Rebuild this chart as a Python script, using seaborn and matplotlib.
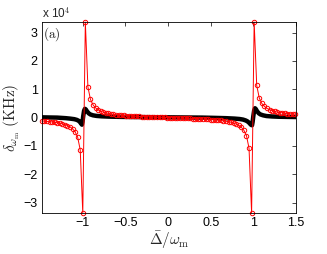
import pandas as pd
import matplotlib
matplotlib.use("Agg")
import matplotlib.pyplot as plt
import seaborn as sns

# values in units of 1e4 KHz (axis shows "x 10^4")
red_x = [-1.48, -1.45, -1.42, -1.39, -1.36, -1.33, -1.30, -1.27, -1.24, -1.21,
         -1.18, -1.15, -1.12, -1.09, -1.06, -1.03, -1.00, -0.97, -0.94, -0.91,
         -0.88, -0.85, -0.82, -0.79, -0.76, -0.73, -0.70, -0.67, -0.64, -0.61,
         -0.58, -0.55, -0.52, -0.49, -0.46, -0.43, -0.40, -0.37, -0.34, -0.31,
         -0.28, -0.25, -0.22, -0.19, -0.16, -0.13, -0.10, -0.07, -0.04, -0.01,
         0.02, 0.05, 0.08, 0.11, 0.14, 0.17, 0.20, 0.23, 0.26, 0.29,
         0.32, 0.35, 0.38, 0.41, 0.44, 0.47, 0.50, 0.53, 0.56, 0.59,
         0.62, 0.65, 0.68, 0.71, 0.74, 0.77, 0.80, 0.83, 0.86, 0.89,
         0.92, 0.95, 0.98, 1.01, 1.04, 1.07, 1.10, 1.13, 1.16, 1.19,
         1.22, 1.25, 1.28, 1.31, 1.34, 1.37, 1.40, 1.43, 1.46, 1.49]
red_y = [-0.121, -0.128, -0.136, -0.144, -0.155, -0.166, -0.180, -0.197, -0.218, -0.245,
         -0.279, -0.326, -0.394, -0.500, -0.691, -1.136, -3.37, 3.37, 1.085, 0.640,
         0.450, 0.343, 0.275, 0.228, 0.194, 0.167, 0.146, 0.129, 0.114, 0.102,
         0.092, 0.083, 0.075, 0.067, 0.061, 0.055, 0.050, 0.045, 0.040, 0.036,
         0.032, 0.028, 0.024, 0.021, 0.017, 0.014, 0.011, 0.008, 0.005, 0.002,
         -0.002, -0.005, -0.008, -0.011, -0.014, -0.017, -0.021, -0.024, -0.028, -0.032,
         -0.036, -0.040, -0.045, -0.050, -0.055, -0.061, -0.067, -0.075, -0.083, -0.092,
         -0.102, -0.114, -0.129, -0.146, -0.167, -0.194, -0.228, -0.275, -0.343, -0.450,
         -0.640, -1.085, -3.37, 3.37, 1.136, 0.691, 0.500, 0.394, 0.326, 0.279,
         0.245, 0.218, 0.197, 0.180, 0.166, 0.155, 0.144, 0.136, 0.128, 0.121]

black_x = [-1.48, -1.40, -1.30, -1.20, -1.15, -1.10, -1.07, -1.05, -1.035, -1.02,
           -1.01, -1.003, -0.995, -0.985, -0.975, -0.965, -0.95, -0.93, -0.91, -0.88,
           -0.84, -0.78, -0.70, -0.55, -0.40, -0.20, 0.00, 0.20, 0.40, 0.55,
           0.68, 0.78, 0.84, 0.88, 0.91, 0.93, 0.95, 0.965, 0.975, 0.985,
           0.992, 1.000, 1.010, 1.020, 1.030, 1.045, 1.065, 1.085, 1.115, 1.155,
           1.22, 1.30, 1.40, 1.50]
black_y = [0.01, 0.005, 0.0, -0.02, -0.035, -0.055, -0.08, -0.11, -0.15, -0.21,
           -0.25, -0.15, 0.05, 0.24, 0.31, 0.29, 0.22, 0.15, 0.11, 0.08,
           0.06, 0.045, 0.035, 0.025, 0.02, 0.015, 0.01, 0.005, 0.0, -0.01,
           -0.02, -0.035, -0.05, -0.07, -0.10, -0.13, -0.18, -0.23, -0.26, -0.27,
           -0.15, 0.05, 0.25, 0.33, 0.30, 0.22, 0.15, 0.11, 0.08, 0.055,
           0.04, 0.03, 0.025, 0.02]

x_ticks = [-1, -0.5, 0, 0.5, 1, 1.5]
x_ticklabels = ["\u22121", "\u22120.5", "0", "0.5", "1", "1.5"]
y_ticks = [-3, -2, -1, 0, 1, 2, 3]
y_ticklabels = ["\u22123", "\u22122", "\u22121", "0", "1", "2", "3"]

red_df = pd.DataFrame({"x": red_x, "y": red_y})
black_df = pd.DataFrame({"x": black_x, "y": black_y})

sns.set_style("white")
plt.rcParams["font.family"] = ["Liberation Sans", "DejaVu Sans"]
plt.rcParams["mathtext.fontset"] = "cm"

fig = plt.figure(figsize=(3.27, 2.54), dpi=100)
ax = fig.add_axes([0.128, 0.161, 0.777, 0.752])

sns.lineplot(data=black_df, x="x", y="y", sort=False, estimator=None,
             color="black", linewidth=3.2, ax=ax)
sns.lineplot(data=red_df, x="x", y="y", sort=False, estimator=None,
             color="red", linewidth=0.7, ax=ax)
red_line = ax.lines[-1]
red_line.set_marker("o")
red_line.set_markersize(3.2)
red_line.set_markerfacecolor("none")
red_line.set_markeredgecolor("red")
red_line.set_markeredgewidth(0.7)
red_line.set_clip_on(False)

ax.set_xlim(-1.48, 1.5)
ax.set_ylim(-3.37, 3.37)
ax.set_xticks(x_ticks)
ax.set_xticklabels(x_ticklabels, fontsize=9)
ax.set_yticks(y_ticks)
ax.set_yticklabels(y_ticklabels, fontsize=9)
ax.tick_params(direction="in", top=True, right=True, length=3, width=0.5,
               pad=3, colors="black")
for s in ax.spines.values():
    s.set_visible(True)
    s.set_color("black")
    s.set_linewidth(0.6)

ax.set_xlabel(r"$\bar{\Delta}/\omega_{\mathrm{m}}$", fontsize=11, labelpad=0)
ax.set_ylabel(r"$\delta_{\omega_{\mathrm{m}}}\ \mathrm{(KHz)}$", fontsize=11, labelpad=1)
ax.text(0.004, 0.985, r"$\mathrm{(a)}$", transform=ax.transAxes,
        va="top", ha="left", fontsize=9.5)
fig.text(0.128, 0.92, r"x 10$^{4}$", fontsize=8.5, ha="left", va="bottom")

fig.savefig("out.png", dpi=100)
